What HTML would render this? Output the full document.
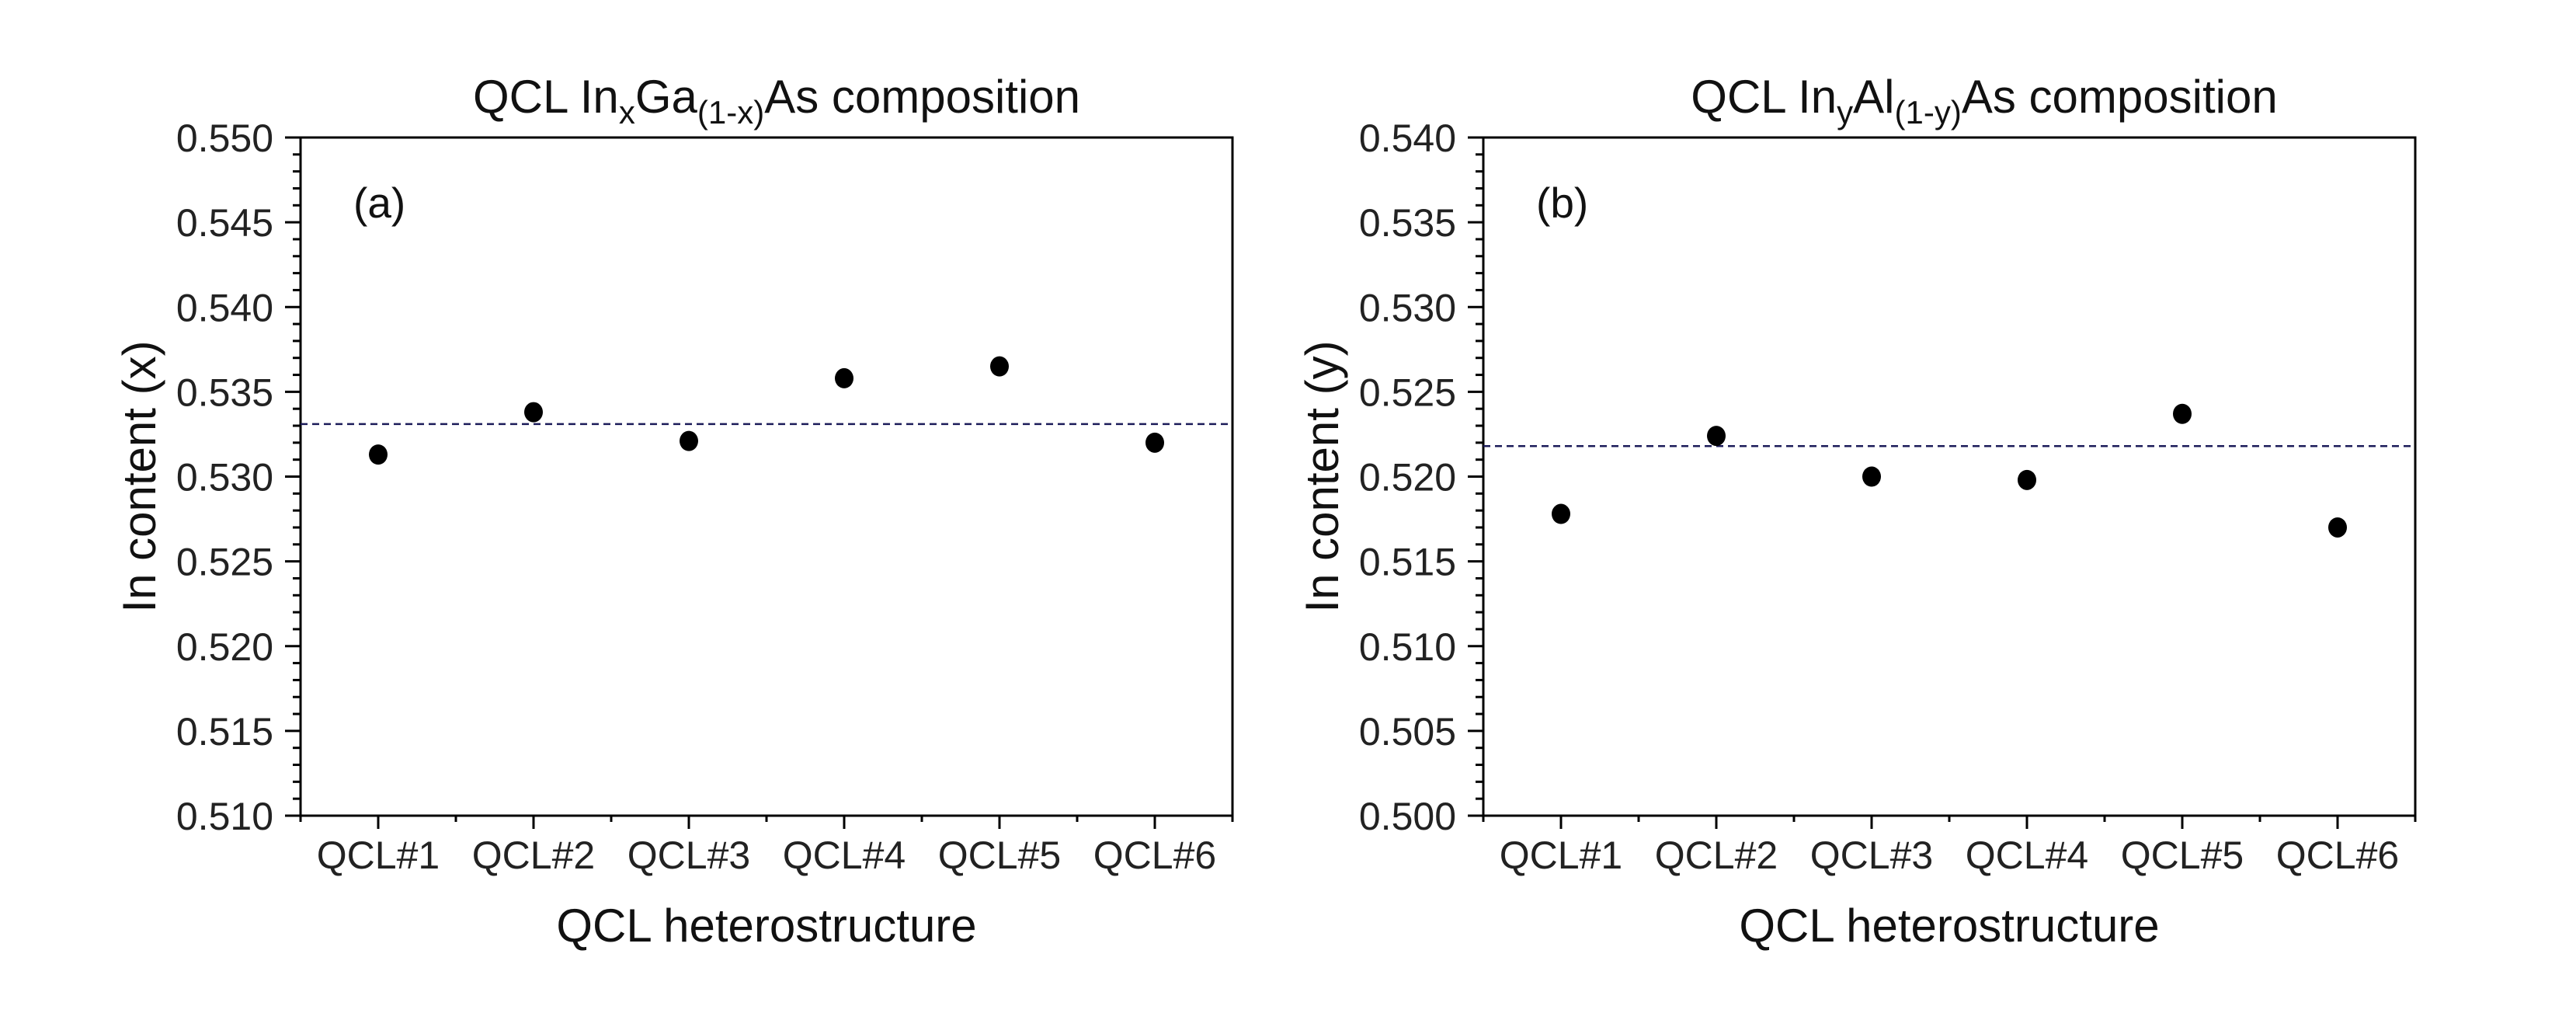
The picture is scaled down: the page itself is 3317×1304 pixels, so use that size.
<!DOCTYPE html>
<html><head><meta charset="utf-8"><style>
html,body{margin:0;padding:0;background:#fff;}
svg{display:block;font-family:"Liberation Sans",Arial,sans-serif;}
</style></head><body>
<svg id="fig" width="3317" height="1304" viewBox="0 0 3317 1304"></svg>
<script>
const categories = ["QCL#1","QCL#2","QCL#3","QCL#4","QCL#5","QCL#6"];
const seriesA = [0.5313,0.5338,0.5321,0.5358,0.5365,0.5320];
const meanA = 0.5331;
const ticksA = [0.510,0.515,0.520,0.525,0.530,0.535,0.540,0.545,0.550];
const seriesB = [0.5178,0.5224,0.5200,0.5198,0.5237,0.5170];
const meanB = 0.5218;
const ticksB = [0.500,0.505,0.510,0.515,0.520,0.525,0.530,0.535,0.540];

const NS="http://www.w3.org/2000/svg";
const svg=document.getElementById('fig');
function mk(tag,attrs,parent){const e=document.createElementNS(NS,tag);for(const k in attrs)e.setAttribute(k,attrs[k]);(parent||svg).appendChild(e);return e;}

function panel(opts){
  const g=mk('g',{});
  
  
  const L=opts.left,R=opts.left+1200,T=177,B=1050;
  const ymin=opts.ticks[0],ymax=opts.ticks[opts.ticks.length-1];
  const y=v=>B-(v-ymin)/(ymax-ymin)*(B-T);
  const step=(R-L)/categories.length;
  const x=i=>L+step*(i+0.5);
  // minor y ticks
  const minorStep=(opts.ticks[1]-opts.ticks[0])/5;
  for(let k=0;k<=(opts.ticks.length-1)*5;k++){
    const v=ymin+k*minorStep;const yy=y(v);
    const major=k%5===0;
    const t=mk('line',{x1:L-(major?20:10),x2:L,y1:yy,y2:yy,stroke:'#000','stroke-width':3},g);
    
    
  }
  opts.ticks.forEach(v=>{
    const t=mk('text',{x:L-35,y:y(v)+18,'text-anchor':'end','font-size':50,fill:'#222'},g);
    t.textContent=v.toFixed(3);
    
    
  });
  // x ticks
  for(let k=0;k<=categories.length*2;k++){
    const xx=L+k*step/2;const major=k%2===1;
    const t=mk('line',{x1:xx,x2:xx,y1:B,y2:B+(major?17:8),stroke:'#000','stroke-width':3},g);
    
    
  }
  categories.forEach((c,i)=>{
    const t=mk('text',{x:x(i),y:1118,'text-anchor':'middle','font-size':50,fill:'#222'},g);
    t.textContent=c;
    
    
  });
  // frame
  const f=mk('rect',{x:L,y:T,width:R-L,height:B-T,fill:'none',stroke:'#000','stroke-width':3},g);
  
  
  // mean line
  const m=mk('line',{x1:L,x2:R,y1:y(opts.mean),y2:y(opts.mean),stroke:'#1c1c5a','stroke-width':2.5,'stroke-dasharray':'9 6'},g);
  
  
  // points
  opts.series.forEach((v,i)=>{
    const p=mk('ellipse',{cx:x(i),cy:y(v),rx:12,ry:13,fill:'#000'},g);
    
    
  });
  // panel letter
  const pl=mk('text',{x:L+68,y:280,'font-size':55,fill:'#111'},g);
  pl.textContent=opts.letter;
  
  
  // x title
  const xt=mk('text',{x:(L+R)/2,y:1212,'text-anchor':'middle','font-size':60,fill:'#111'},g);
  xt.textContent='QCL heterostructure';
  
  
  // y title
  const yt=mk('text',{x:0,y:0,'text-anchor':'middle','font-size':60,fill:'#111',transform:`translate(${L-187},${(T+B)/2}) rotate(-90)`},g);
  yt.textContent=opts.ytitle;
  
  
  // chart title
  const tt=mk('text',{x:opts.titleX,y:145,'text-anchor':'middle','font-size':60,fill:'#111'},g);
  
  
  opts.title.forEach(([s,sub])=>{
    const ts=mk('tspan',{},tt);
    if(sub){ts.setAttribute('font-size',42);ts.setAttribute('dy',14);}
    else if(ts.previousSibling&&ts.previousSibling.getAttribute('dy')==='14'){ts.setAttribute('dy',-14);}
    ts.textContent=s;
  });
}
panel({name:'panel-a-ingaas',left:387,ticks:ticksA,series:seriesA,mean:meanA,letter:'(a)',ytitle:'In content (x)',titleX:1000,
  title:[['QCL In',0],['x',1],['Ga',0],['(1-x)',1],['As composition',0]]});
panel({name:'panel-b-inalas',left:1910,ticks:ticksB,series:seriesB,mean:meanB,letter:'(b)',ytitle:'In content (y)',titleX:2555,
  title:[['QCL In',0],['y',1],['Al',0],['(1-y)',1],['As composition',0]]});
</script>
</body></html>
